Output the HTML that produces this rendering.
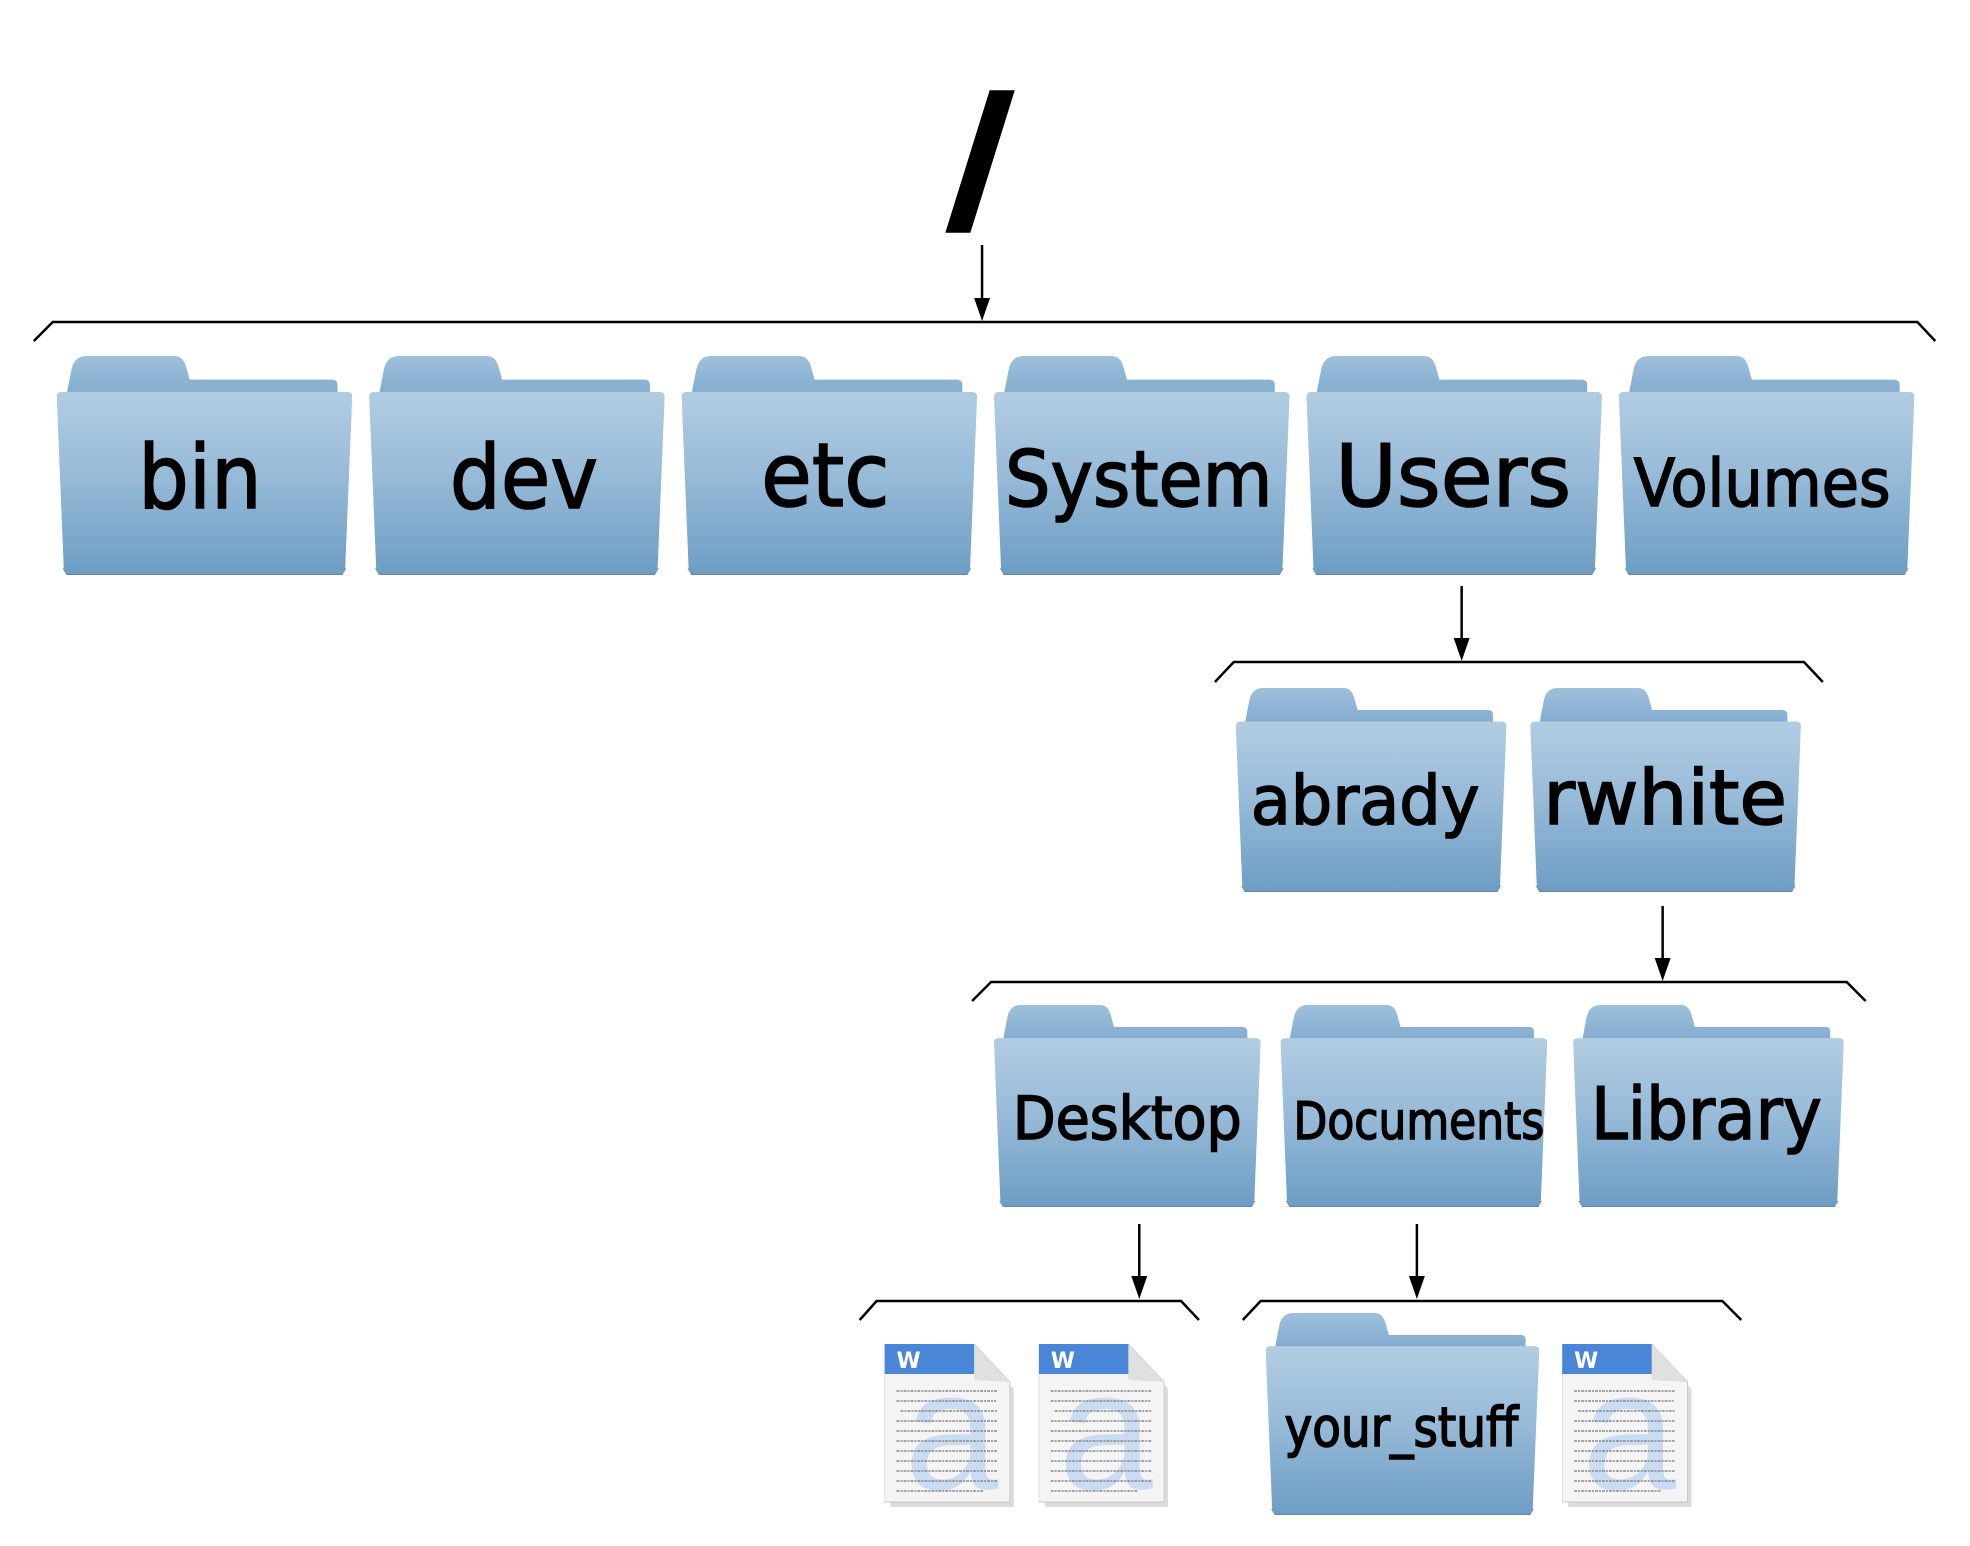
<!DOCTYPE html>
<html><head><meta charset="utf-8"><style>
html,body{margin:0;padding:0;background:#fff;}
svg{display:block;}
text{font-family:"DejaVu Sans","Liberation Sans",sans-serif;fill:#000;}
.t{stroke:#000;stroke-width:1.6;}
</style></head><body>
<svg width="1970" height="1546" viewBox="0 0 1970 1546" xmlns="http://www.w3.org/2000/svg">
<defs>
<linearGradient id="gb" x1="0" y1="0" x2="0" y2="1">
<stop offset="0" stop-color="#b2cde2"/><stop offset="0.45" stop-color="#98bbd8"/><stop offset="1" stop-color="#6d9dc4"/>
</linearGradient>
<linearGradient id="gt" x1="0" y1="0" x2="0" y2="1">
<stop offset="0" stop-color="#9fc0dc"/><stop offset="1" stop-color="#7aa6cb"/>
</linearGradient>
<symbol id="folder" viewBox="0 0 100 100" preserveAspectRatio="none">
<path d="M3,20 L5,6 Q6,0 10,0 L40,0 Q43,0 44,6 L45,10.8 L93,10.8 Q95,10.8 95,13 L95,22 L3,22 Z" fill="url(#gt)"/>
<path d="M2,97 L4,101.5 L96,101.5 L98,97 Z" fill="#3d5670" opacity="0.75"/>
<path d="M0,18.5 Q0,16.4 2,16.4 L98,16.4 Q100,16.4 100,18.5 L97.6,97.5 Q97.4,99.6 95.5,99.6 L4.5,99.6 Q2.6,99.6 2.4,97.5 Z" fill="url(#gb)"/>
</symbol>
<symbol id="doc" viewBox="0 0 130 165" preserveAspectRatio="none">
<path d="M4,4 L90,4 L128,42 L128,160 L4,160 Z" fill="#9a9a9a" opacity="0.35" transform="translate(2,3)"/>
<path d="M0,0 L90,0 L126,38 L126,158 L0,158 Z" fill="#f4f4f4" stroke="#c8c8c8" stroke-width="1"/>
<path d="M0,0 L90,0 L106,18 L106,30 L0,30 Z" fill="#4a86d8"/>
<path d="M90,0 L90,36 L126,38 Z" fill="#e0e0e0"/>
<text x="12" y="24" font-size="22" font-weight="bold" style="fill:#fff">W</text>
<text x="20" y="145" font-size="170" style="fill:#cadcf2;font-family:'Liberation Sans',sans-serif">a</text>
<g stroke="#8a8a8a" stroke-width="1.6" stroke-dasharray="3 1 2 1">
<line x1="12" y1="47" x2="114" y2="47"/><line x1="12" y1="57" x2="112" y2="57"/><line x1="16" y1="67" x2="114" y2="67"/><line x1="12" y1="77" x2="114" y2="77"/><line x1="12" y1="87" x2="114" y2="87"/><line x1="12" y1="97" x2="114" y2="97"/><line x1="12" y1="107" x2="114" y2="107"/><line x1="12" y1="117" x2="114" y2="117"/><line x1="12" y1="127" x2="114" y2="127"/><line x1="12" y1="137" x2="114" y2="137"/><line x1="12" y1="147" x2="100" y2="147"/>
</g>
</symbol>
</defs>
<g transform="scale(0.995,1)">
<text x="985" y="214" font-size="165" font-weight="bold" text-anchor="middle" style="stroke:#000;stroke-width:7">/</text>

<g stroke="#000" stroke-width="2.5" fill="none">
<line x1="987" y1="245" x2="987" y2="300"/>
<line x1="1469" y1="586" x2="1469" y2="640"/>
<line x1="1671" y1="906" x2="1671" y2="960"/>
<line x1="1145" y1="1224" x2="1145" y2="1278"/>
<line x1="1424" y1="1224" x2="1424" y2="1278"/>
<polyline points="34,341 53,322 1927,322 1945,341"/>
<polyline points="1221,682 1240,662 1813,662 1832,682"/>
<polyline points="977,1001 996,982 1856,982 1875,1001"/>
<polyline points="864,1320 881,1301 1187,1301 1205,1320"/>
<polyline points="1249,1320 1267,1301 1731,1301 1750,1320"/>
</g>
<g fill="#000">
<polygon points="979,298 995,298 987,321"/>
<polygon points="1461,638 1477,638 1469,661"/>
<polygon points="1663,958 1679,958 1671,981"/>
<polygon points="1137,1276 1153,1276 1145,1299"/>
<polygon points="1416,1276 1432,1276 1424,1299"/>
</g>

<use href="#folder" x="57" y="356" width="297" height="219"/>
<use href="#folder" x="371" y="356" width="297" height="219"/>
<use href="#folder" x="685" y="356" width="297" height="219"/>
<use href="#folder" x="999" y="356" width="297" height="219"/>
<use href="#folder" x="1313" y="356" width="297" height="219"/>
<use href="#folder" x="1627" y="356" width="297" height="219"/>
<text class="t" x="139" y="508" font-size="88" textLength="124" lengthAdjust="spacingAndGlyphs">bin</text>
<text class="t" x="452" y="508" font-size="88" textLength="149" lengthAdjust="spacingAndGlyphs">dev</text>
<text class="t" x="765" y="506" font-size="88" textLength="129" lengthAdjust="spacingAndGlyphs">etc</text>
<text class="t" x="1010" y="506" font-size="78" textLength="269" lengthAdjust="spacingAndGlyphs">System</text>
<text class="t" x="1342" y="506" font-size="86" textLength="237" lengthAdjust="spacingAndGlyphs">Users</text>
<text class="t" x="1642" y="506" font-size="66" textLength="258" lengthAdjust="spacingAndGlyphs">Volumes</text>

<use href="#folder" x="1242" y="688" width="272" height="204"/>
<use href="#folder" x="1538" y="688" width="272" height="204"/>
<text class="t" x="1257" y="824" font-size="68" textLength="230" lengthAdjust="spacingAndGlyphs">abrady</text>
<text class="t" x="1551" y="824" font-size="76" textLength="245" lengthAdjust="spacingAndGlyphs">rwhite</text>

<use href="#folder" x="999" y="1005" width="268" height="202"/>
<use href="#folder" x="1287" y="1005" width="268" height="202"/>
<use href="#folder" x="1581" y="1005" width="272" height="202"/>
<text class="t" x="1018" y="1139" font-size="60" textLength="230" lengthAdjust="spacingAndGlyphs">Desktop</text>
<text class="t" x="1300" y="1139" font-size="52" textLength="252" lengthAdjust="spacingAndGlyphs">Documents</text>
<text class="t" x="1599" y="1139" font-size="72" textLength="232" lengthAdjust="spacingAndGlyphs">Library</text>

<use href="#doc" x="889" y="1344" width="130" height="165"/>
<use href="#doc" x="1044" y="1344" width="130" height="165"/>
<use href="#folder" x="1272" y="1313" width="275" height="202"/>
<use href="#doc" x="1570" y="1344" width="130" height="165"/>
<text class="t" x="1291" y="1446" font-size="54" textLength="235" lengthAdjust="spacingAndGlyphs">your_stuff</text>
</g>
</svg>
</body></html>
